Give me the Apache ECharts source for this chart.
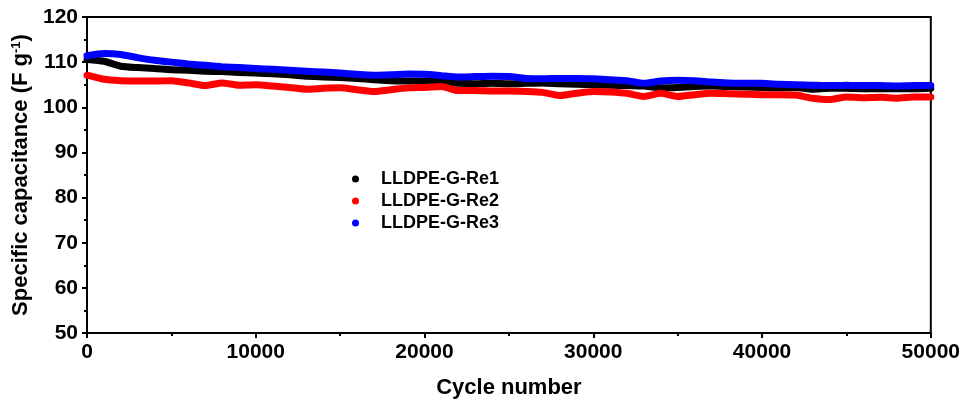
<!DOCTYPE html>
<html><head><meta charset="utf-8">
<script src="https://cdn.jsdelivr.net/npm/echarts@6/dist/echarts.min.js"></script>
<style>html,body{margin:0;padding:0;background:#fff}#c{width:963px;height:404px}</style>
</head><body><div id="c"></div>
<script>
var cycles = [0,1000,2000,3000,4000,5000,6000,7000,8000,9000,10000,11000,12000,13000,14000,15000,16000,17000,18000,19000,20000,21000,22000,23000,24000,25000,26000,27000,28000,29000,30000,31000,32000,33000,34000,35000,36000,37000,38000,39000,40000,41000,42000,43000,44000,45000,46000,47000,48000,49000,50000];
var re1 = [110.6,110.2,109.1,108.8,108.6,108.3,108.2,108.0,107.9,107.7,107.6,107.4,107.2,106.9,106.7,106.6,106.4,106.1,105.9,105.8,105.8,105.6,105.3,105.2,105.3,105.2,105.3,105.4,105.2,105.1,105.0,104.9,104.8,104.7,104.3,104.4,104.6,104.7,104.6,104.5,104.4,104.3,104.4,104.0,104.2,104.2,104.1,104.1,104.1,104.1,104.2];
var re2 = [107.1,106.2,105.9,105.8,105.8,105.9,105.4,104.8,105.4,104.9,105.0,104.7,104.4,104.0,104.2,104.3,103.9,103.5,103.9,104.3,104.4,104.6,103.7,103.7,103.6,103.6,103.5,103.3,102.6,103.1,103.5,103.4,103.1,102.4,103.1,102.4,102.8,103.1,103.0,102.9,102.8,102.8,102.7,102.0,101.7,102.3,102.1,102.2,102.0,102.3,102.3];
var re3 = [111.4,111.9,111.7,111.0,110.4,110.0,109.6,109.3,109.0,108.8,108.6,108.4,108.2,108.0,107.8,107.6,107.3,107.1,107.2,107.4,107.3,107.0,106.7,106.8,106.9,106.8,106.4,106.3,106.4,106.4,106.3,106.1,105.9,105.3,105.8,106.0,105.9,105.6,105.4,105.3,105.3,105.1,105.0,104.9,104.8,104.9,104.8,104.8,104.7,104.8,104.8];
var names = ['LLDPE-G-Re1','LLDPE-G-Re2','LLDPE-G-Re3'];
var colors = ['#000000','#ff0000','#0000ff'];
var xTitle = 'Cycle number';
var yTitleMain = 'Specific capacitance (F g';
var yTitleSup = '-1';

function pairs(v){ return cycles.map(function(c,i){ return [c, v[i]]; }); }
var font = 'Liberation Sans, Arial, sans-serif';
var chart = echarts.init(document.getElementById('c'));
var series = [re1, re2, re3].map(function(v, i){
  return {
    name: names[i], type: 'line', data: pairs(v), showSymbol: false, symbol: 'circle',
    lineStyle: {color: colors[i], width: 7, cap: 'round', join: 'round'},
    itemStyle: {color: colors[i]}, z: 2 + i, animation: false, smooth: 0.2
  };
});
chart.setOption({
  animation: false,
  grid: {left: 87, right: 30, top: 17, bottom: 69, show: true, borderColor: '#000', borderWidth: 2},
  legend: {
    orient: 'vertical', left: 347, top: 165, itemGap: 4, icon: 'circle', itemWidth: 7, itemHeight: 7,
    textStyle: {fontFamily: font, fontWeight: 'bold', fontSize: 18, color: '#000', padding: [0,0,0,17]},
    data: names
  },
  xAxis: {
    type: 'value', min: 0, max: 50000, interval: 10000,
    name: xTitle, nameLocation: 'middle', nameGap: 44,
    nameTextStyle: {fontFamily: font, fontWeight: 'bold', fontSize: 22, color: '#000'},
    axisLine: {lineStyle: {color: '#000', width: 2}},
    axisTick: {length: 5, lineStyle: {color: '#000', width: 2}},
    minorTick: {show: true, splitNumber: 2, length: 3, lineStyle: {color: '#000', width: 2}},
    axisLabel: {fontFamily: font, fontWeight: 'bold', fontSize: 21, color: '#000', margin: 9,
      formatter: function(v){ return String(v); }},
    splitLine: {show: false}
  },
  yAxis: {
    type: 'value', min: 50, max: 120, interval: 10,
    name: '{a|' + yTitleMain + '}{s|' + yTitleSup + '}{a|)}', nameLocation: 'middle', nameGap: 54,
    nameTextStyle: {
      rich: {
        a: {fontFamily: font, fontWeight: 'bold', fontSize: 22, color: '#000'},
        s: {fontFamily: font, fontWeight: 'bold', fontSize: 13, color: '#000', verticalAlign: 'top', padding: [0,0,10,0]}
      }
    },
    axisLine: {lineStyle: {color: '#000', width: 2}},
    axisTick: {length: 5, lineStyle: {color: '#000', width: 2}},
    minorTick: {show: true, splitNumber: 2, length: 3, lineStyle: {color: '#000', width: 2}},
    axisLabel: {fontFamily: font, fontWeight: 'bold', fontSize: 21, color: '#000', margin: 9},
    splitLine: {show: false}
  },
  series: series
});
</script></body></html>
